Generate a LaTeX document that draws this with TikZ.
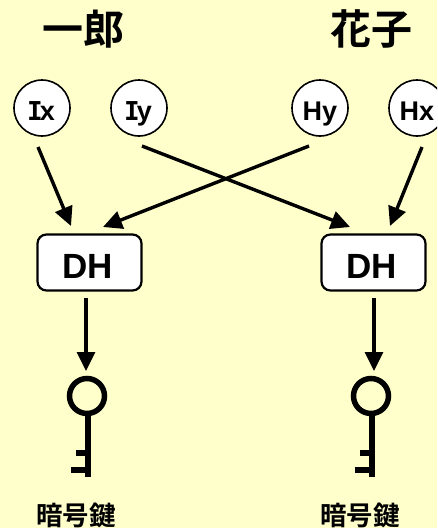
\documentclass[tikz,border=0pt]{standalone}
\usepackage{fontspec}
\setmainfont{Liberation Sans}
\newfontfamily\serifI{DejaVu Sans Mono}[BoldFont={* Bold}]
\newfontfamily\jpb{Noto Sans CJK JP}[BoldFont={* Bold}]
\newfontfamily\latb{Liberation Sans}[BoldFont={* Bold}]
\usetikzlibrary{arrows.meta}
\definecolor{bgc}{RGB}{255,255,204}
\newcommand{\sI}{\kern-2pt{\serifI\fontsize{26}{26}\selectfont I}\kern-3pt}
\tikzset{
 x=1pt,y=-1pt,
 circ/.style={circle,draw=black,fill=white,line width=1.6pt,minimum size=56pt,inner sep=0pt,text height=24pt,text depth=0pt,font=\latb\bfseries\fontsize{27}{27}\selectfont},
 dhbox/.style={rectangle,rounded corners=9pt,draw=black,fill=white,line width=2.2pt,minimum width=104pt,minimum height=56pt,inner sep=0pt,text height=31pt,text depth=0pt,font=\latb\bfseries\fontsize{35}{35}\selectfont},
 arr/.style={line width=3.4pt,-{Triangle[length=19pt,width=18pt]}},
 keyl/.style={line width=6pt},
 persontxt/.style={font=\jpb\bfseries\fontsize{41}{41}\selectfont,inner sep=0pt},
 keytxt/.style={font=\jpb\bfseries\fontsize{26.5}{26.5}\selectfont,inner sep=0pt},
}
\begin{document}
\begin{tikzpicture}
\path[use as bounding box,fill=bgc] (0,0) rectangle (437,528);
\clip (0,0) rectangle (437,528);
\node[persontxt] (ichiro) at (83,29) {一郎};
\node[persontxt] (hanako) at (371,29) {花子};
\node[circ] (Ix) at (42,108) {\sI x};
\node[circ] (Iy) at (139,108) {\sI y};
\node[circ] (Hy) at (320,108) {Hy};
\node[circ] (Hx) at (417,108) {Hx};
\node[dhbox] (DHL) at (89.5,262.5) {\kern-3pt DH};
\node[dhbox] (DHR) at (373.5,262.5) {\kern-3pt DH};
\coordinate (ixs) at (38,147);
\coordinate (iys) at (142,146);
\coordinate (hys) at (309,146);
\coordinate (hxs) at (422,147);
\coordinate (ixe) at (71,226);
\coordinate (hye) at (103,227);
\coordinate (iye) at (350,227);
\coordinate (hxe) at (390,226);
\coordinate (ls) at (86,298);
\coordinate (le) at (86,371);
\coordinate (rs) at (374,298);
\coordinate (re) at (374,371);
\draw[arr] (ixs) -- (ixe);
\draw[arr] (iys) -- (iye);
\draw[arr] (hys) -- (hye);
\draw[arr] (hxs) -- (hxe);
\draw[arr] (ls) -- (le);
\draw[arr] (rs) -- (re);
% keys
\foreach \kx in {87,371}{
  \draw[line width=5.5pt] (\kx,396) circle (17.5pt);
  \draw[keyl] (\kx+0.5,414) -- (\kx+0.5,477);
  \draw[keyl] (\kx-11,453) -- (\kx+0.5,453);
  \draw[keyl] (\kx-16,469.5) -- (\kx+0.5,469.5);
}
\node[keytxt] (cl) at (76,515) {暗号鍵};
\node[keytxt] (cr) at (360,515) {暗号鍵};
\end{tikzpicture}
\end{document}
